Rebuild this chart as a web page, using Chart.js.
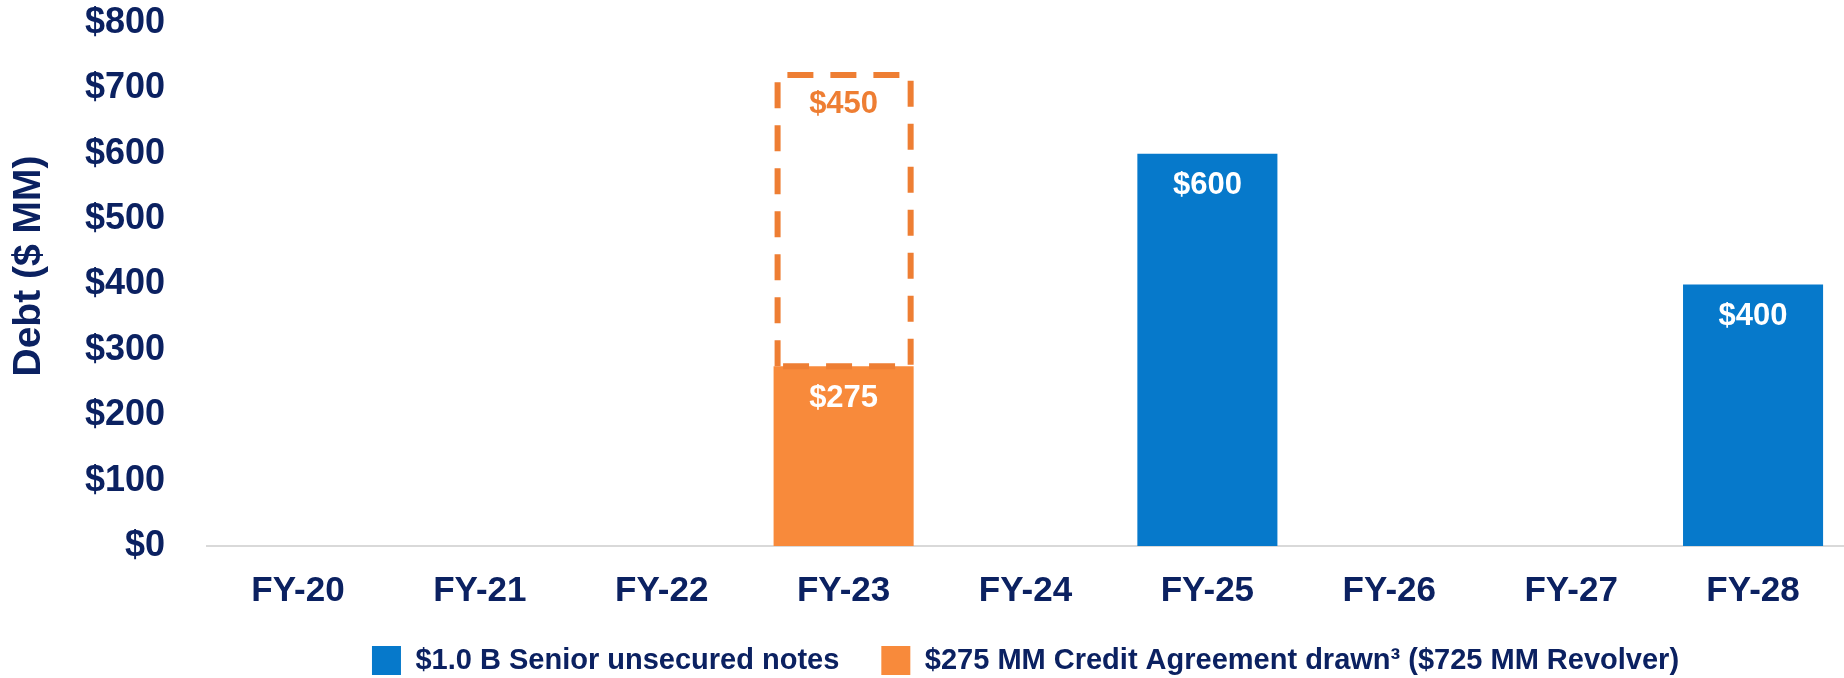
<!DOCTYPE html>
<html>
<head>
<meta charset="utf-8">
<script src="https://cdn.jsdelivr.net/npm/chart.js@4.4.1/dist/chart.umd.min.js"></script>
<style>
  html, body { margin: 0; padding: 0; background: #ffffff; }
  #wrap { width: 1844px; height: 678px; position: relative; }
</style>
</head>
<body>
<div id="wrap"><canvas id="c" width="1844" height="678"></canvas></div>
<script>
const categories = ['FY-20', 'FY-21', 'FY-22', 'FY-23', 'FY-24', 'FY-25', 'FY-26', 'FY-27', 'FY-28'];
const seniorNotes = [null, null, null, null, null, 600, null, null, 400];
const creditDrawn = [null, null, null, 275, null, null, null, null, null];
const revolverUndrawn = [null, null, null, 450, null, null, null, null, null];
const seriesNames = ['$1.0 B Senior unsecured notes', '$275 MM Credit Agreement drawn\u00B3 ($725 MM Revolver)', 'Undrawn revolver'];
const yTicks = [0, 100, 200, 300, 400, 500, 600, 700, 800];
const yTitle = 'Debt ($ MM)';

const NAVY = '#0B2161';
const BLUE = '#0679CB';
const ORANGE = '#F88A3B';
const ORANGE_DARK = '#EE7E33';
const FONT = '"Liberation Sans", Arial, sans-serif';

const dashedBoxPlugin = {
  id: 'dashedBox',
  afterDatasetsDraw(chart) {
    const meta = chart.getDatasetMeta(2);
    const ctx = chart.ctx;
    meta.data.forEach((el, i) => {
      const v = chart.data.datasets[2].data[i];
      if (v == null) return;
      const p = el.getProps(['x', 'y', 'base', 'width'], true);
      const lw = 6;
      const left = p.x - p.width / 2 + lw / 2 + 1;
      const right = p.x + p.width / 2 - lw / 2;
      const top = Math.min(p.y, p.base) + lw / 2;
      const bottom = Math.max(p.y, p.base);
      ctx.save();
      ctx.strokeStyle = ORANGE_DARK;
      ctx.lineWidth = lw;
      ctx.setLineDash([26, 17]);
      ctx.beginPath();
      ctx.moveTo(left, bottom);
      ctx.lineTo(left, top);
      ctx.lineTo(right, top);
      ctx.lineTo(right, bottom);
      ctx.lineTo(left, bottom);
      ctx.stroke();
      ctx.restore();
    });
  }
};

const valueLabelPlugin = {
  id: 'valueLabels',
  afterDatasetsDraw(chart) {
    const ctx = chart.ctx;
    chart.data.datasets.forEach((ds, di) => {
      const meta = chart.getDatasetMeta(di);
      meta.data.forEach((el, i) => {
        const v = ds.data[i];
        if (v == null) return;
        const p = el.getProps(['x', 'y', 'base'], true);
        const top = Math.min(p.y, p.base);
        ctx.save();
        ctx.font = 'bold 31px ' + FONT;
        ctx.textAlign = 'center';
        ctx.textBaseline = 'middle';
        ctx.fillStyle = di === 2 ? ORANGE_DARK : '#ffffff';
        ctx.fillText('$' + v, p.x, top + 32);
        ctx.restore();
      });
    });
  }
};

const yTitlePlugin = {
  id: 'yTitle',
  afterDraw(chart) {
    const ctx = chart.ctx;
    ctx.save();
    ctx.translate(29, 266);
    ctx.rotate(-Math.PI / 2);
    ctx.font = 'bold 39px ' + FONT;
    ctx.textAlign = 'center';
    ctx.textBaseline = 'middle';
    ctx.fillStyle = NAVY;
    ctx.fillText(yTitle, 0, 0);
    ctx.restore();
  }
};

new Chart(document.getElementById('c'), {
  type: 'bar',
  data: {
    labels: categories,
    datasets: [
      { label: seriesNames[0], data: seniorNotes, backgroundColor: BLUE, borderWidth: 0 },
      { label: seriesNames[1], data: creditDrawn, backgroundColor: ORANGE, borderWidth: 0 },
      { label: seriesNames[2], data: revolverUndrawn, backgroundColor: 'rgba(0,0,0,0)', borderWidth: 0 }
    ]
  },
  options: {
    responsive: false,
    animation: false,
    devicePixelRatio: 1,
    layout: { padding: { top: 23, left: 9, right: 0, bottom: -7 } },
    datasets: { bar: { barPercentage: 0.77, categoryPercentage: 1.0 } },
    scales: {
      x: {
        stacked: true,
        grid: { display: false, drawTicks: false },
        border: { display: true, color: '#D9D9D9', width: 2 },
        ticks: { color: NAVY, font: { family: FONT, size: 35, weight: 'bold' }, padding: 24, maxRotation: 0, autoSkip: false },
        afterFit: s => { s.height = 58; }
      },
      y: {
        stacked: true,
        min: 0, max: 800,
        grid: { display: false, drawTicks: false },
        border: { display: false },
        afterBuildTicks: s => { s.ticks = yTicks.map(v => ({ value: v })); },
        ticks: { color: NAVY, font: { family: FONT, size: 36, weight: 'bold' }, padding: 42, callback: v => '$' + v },
        title: { display: false },
        afterFit: s => { s.width = 198; s.paddingTop = 0; s.paddingBottom = 0; }
      }
    },
    plugins: {
      legend: {
        position: 'bottom',
        fullSize: false,
        labels: {
          color: NAVY,
          font: { family: FONT, size: 29, weight: 'bold' },
          boxWidth: 29, boxHeight: 29, padding: 42,
          filter: item => item.datasetIndex !== 2
        }
      },
      tooltip: { enabled: false }
    }
  },
  plugins: [dashedBoxPlugin, valueLabelPlugin, yTitlePlugin]
});
</script>
</body>
</html>
